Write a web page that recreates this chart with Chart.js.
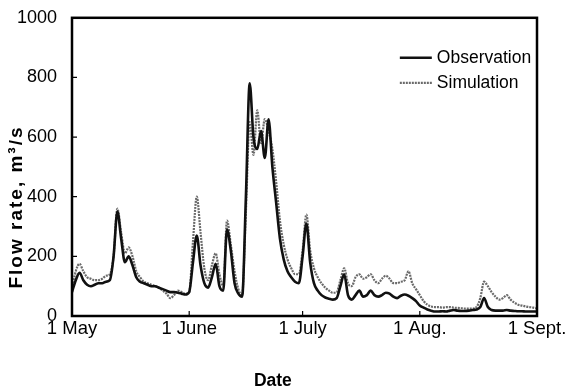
<!DOCTYPE html>
<html>
<head>
<meta charset="utf-8">
<script src="https://cdn.jsdelivr.net/npm/chart.js@4/dist/chart.umd.min.js"></script>
<style>
html,body{margin:0;padding:0;background:#fff;}
canvas{display:block;}
</style>
</head>
<body>
<canvas id="c" width="566" height="390"></canvas>
<script>
// Day index 0 = 1 May, 123 = 1 Sept.
const tickDays = [0, 31, 61, 92, 123];
const tickLabels = ["1 May", "1 June", "1 July", "1 Aug.", "1 Sept."];
const yTicks = [0, 200, 400, 600, 800, 1000];
const xTitle = "Date";
const yTitle = "Flow rate, m³/s";

const observation = [
  80,120,145,120,105,100,105,110,110,115,
  120,200,350,260,180,200,170,130,115,110,
  105,100,100,95,90,85,80,80,78,75,
  72,80,180,270,170,110,95,130,175,100,
  85,290,220,110,75,65,400,780,600,560,
  620,530,660,500,380,260,190,150,130,115,
  110,200,310,180,110,85,70,62,58,55,
  60,100,140,70,55,70,85,65,70,85,
  70,65,70,78,75,65,60,68,72,68,
  60,50,35,28,22,18,15,15,16,15,
  18,20,18,17,17,18,20,22,30,60,
  30,20,18,18,18,20,18,17,16,16,
  15,15,15,15
];
const simulation = [
  90,150,175,150,130,125,120,120,125,135,
  140,200,360,280,210,230,200,150,130,115,
  110,105,100,95,85,75,60,70,85,80,
  75,80,250,400,280,160,120,170,210,140,
  100,320,240,150,90,70,350,650,540,690,
  580,660,620,560,450,320,240,190,160,140,
  140,220,340,220,160,130,110,95,85,78,
  80,120,160,110,100,130,140,125,130,140,
  120,110,125,135,125,110,110,115,120,150,
  110,90,70,50,38,32,30,30,28,30,
  30,28,27,26,25,25,25,30,60,115,
  100,80,65,55,60,70,55,45,38,35,
  32,30,28,25
];
const seriesNames = ["Observation", "Simulation"];

const toXY = arr => arr.map((v, i) => ({x: i, y: v}));
const FONT = "'Liberation Sans', Arial, sans-serif";

const framePlugin = {
  id: 'frame',
  afterDraw(chart) {
    const {ctx, chartArea: a, scales} = chart;
    ctx.save();
    ctx.strokeStyle = '#000';
    ctx.lineWidth = 2.5;
    ctx.strokeRect(a.left, a.top, a.right - a.left, a.bottom - a.top);
    ctx.lineWidth = 1.2;
    ctx.beginPath();
    tickDays.forEach(d => {
      const x = scales.x.getPixelForValue(d);
      ctx.moveTo(x, a.bottom); ctx.lineTo(x, a.bottom - 5);
    });
    yTicks.forEach(v => {
      const y = scales.y.getPixelForValue(v);
      ctx.moveTo(a.left, y); ctx.lineTo(a.left + 5, y);
    });
    ctx.stroke();
    // legend
    const ds = chart.data.datasets;
    const lx = a.left + (a.right - a.left) * 0.705;
    const ys = [a.top + 40, a.top + 65];
    ds.forEach((d, i) => {
      ctx.beginPath();
      ctx.strokeStyle = d.borderColor;
      ctx.lineWidth = d.borderWidth;
      ctx.setLineDash(d.borderDash || []);
      ctx.moveTo(lx, ys[i]); ctx.lineTo(lx + 32, ys[i]);
      ctx.stroke();
      ctx.setLineDash([]);
      ctx.fillStyle = '#000';
      ctx.font = '17.5px ' + FONT;
      ctx.textBaseline = 'middle';
      ctx.textAlign = 'left';
      ctx.fillText(d.label, lx + 37, ys[i]);
    });
    // axis titles
    ctx.fillStyle = '#000';
    ctx.textAlign = 'center';
    ctx.textBaseline = 'middle';
    ctx.font = 'bold 17.5px ' + FONT;
    ctx.fillText(xTitle, a.left + (a.right - a.left) * 0.432, 381);
    ctx.save();
    ctx.translate(17, 207);
    ctx.rotate(-Math.PI / 2);
    ctx.font = 'bold 19px ' + FONT;
    if ('letterSpacing' in ctx) ctx.letterSpacing = '2px';
    ctx.fillText(yTitle, 0, 0);
    ctx.restore();
    ctx.restore();
  }
};

new Chart(document.getElementById('c'), {
  type: 'line',
  data: {
    datasets: [
      {label: seriesNames[0], data: toXY(observation), borderColor: '#111', borderWidth: 2.6,
       pointRadius: 0, cubicInterpolationMode: 'monotone', fill: false},
      {label: seriesNames[1], data: toXY(simulation), borderColor: '#6a6a6a', borderWidth: 2.2,
       borderDash: [2, 1], pointRadius: 0, cubicInterpolationMode: 'monotone', fill: false}
    ]
  },
  options: {
    responsive: false,
    animation: false,
    layout: {padding: {left: 4, top: 14, right: 29, bottom: 0}},
    plugins: {legend: {display: false}, tooltip: {enabled: false}},
    scales: {
      x: {
        type: 'linear', min: 0, max: 123,
        afterBuildTicks: s => { s.ticks = tickDays.map(v => ({value: v})); },
        afterFit: s => { s.height = 74; },
        grid: {display: false}, border: {display: false},
        ticks: {
          autoSkip: false, maxRotation: 0, color: '#000', padding: -6,
          font: {family: FONT, size: 18.5},
          callback: v => tickLabels[tickDays.indexOf(v)] ?? ''
        },
        title: {display: false}
      },
      y: {
        min: 0, max: 1000,
        afterBuildTicks: s => { s.ticks = yTicks.map(v => ({value: v})); },
        afterFit: s => { s.width = 68; },
        grid: {display: false}, border: {display: false},
        ticks: {color: '#000', padding: 7, font: {family: FONT, size: 18},
                callback: v => String(v)},
        title: {display: false}
      }
    }
  },
  plugins: [framePlugin]
});
</script>
</body>
</html>
